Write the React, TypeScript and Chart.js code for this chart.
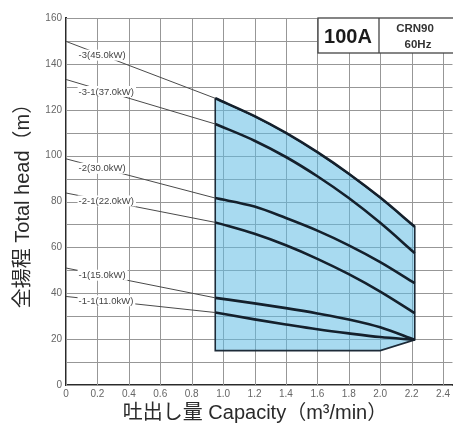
import React, { useEffect, useRef } from 'react';
import { Chart, registerables } from 'chart.js';
Chart.register(...registerables);

// Pump curve labels (model suffix and motor power)
const curveLabels = ['-3(45.0kW)', '-3-1(37.0kW)', '-2(30.0kW)', '-2-1(22.0kW)', '-1(15.0kW)', '-1-1(11.0kW)'];
// Head at zero flow (start of thin extension lines), m
const shutoffHead = [149.8, 133.2, 98.6, 83.7, 51.0, 38.6];
// Flow points of the operating range, m3/min
const curveQ = [0.95, 1.2, 1.4, 1.6, 1.8, 2.0, 2.22];
// Head per model at curveQ, m
const head45 = [125, 117.2, 109.9, 101.5, 92.1, 81.7, 69];
const head37 = [113.8, 106.5, 99.4, 91, 81.5, 70.7, 57.5];
const head30 = [81.5, 77.8, 72.8, 67.3, 60.9, 53.6, 44.4];
const head22 = [70.9, 65.9, 60.9, 55.0, 48.3, 40.7, 31.3];
const head15 = [38, 35.6, 33.5, 31.2, 28.6, 25.2, 19.7];
const head11 = [31.6, 28.6, 26.4, 24.3, 22.5, 20.9, 19.7];
// Lower boundary of the shaded operating range
const regionBottomQ = [2.22, 2.0, 0.95];
const regionBottomHead = [19.7, 15, 15];
// Flow at which curve labels start
const labelStartQ = 0.08;
// Axis ticks
const xTickStep = 0.2;
const yTickStep = 10;
const yLabelStep = 20;
const xMax = 2.46;
const yMax = 160;
// Texts
const boxMain = '100A';
const boxModel = 'CRN90';
const boxFreq = '60Hz';
const yTitle = '全揚程 Total head（m）';
const xTitle = '吐出し量 Capacity（m³/min）';

export default function App() {
  const ref = useRef<HTMLCanvasElement>(null);

  useEffect(() => {
    const heads = [head45, head37, head30, head22, head15, head11];
    const thinDs = heads.map((h, i) => ({
      data: [{ x: 0, y: shutoffHead[i] }, { x: curveQ[0], y: h[0] }],
      borderColor: '#4a4a4a',
      borderWidth: 1,
      pointRadius: 0,
      showLine: true,
      fill: false,
      order: 2,
    }));
    const thickDs = heads.map((h) => ({
      data: curveQ.map((q, j) => ({ x: q, y: h[j] })),
      borderColor: '#14202c',
      borderWidth: 2.6,
      pointRadius: 0,
      showLine: true,
      cubicInterpolationMode: 'monotone',
      fill: false,
      order: 1,
    }));
    const regionData = [
      ...curveQ.map((q, j) => ({ x: q, y: head45[j] })),
      ...regionBottomQ.map((q, j) => ({ x: q, y: regionBottomHead[j] })),
      { x: curveQ[0], y: head45[0] },
    ];
    const regionDs = {
      data: regionData,
      borderColor: '#1d2b38',
      borderWidth: 1.6,
      backgroundColor: 'rgba(97,188,228,0.55)',
      fill: 'shape',
      pointRadius: 0,
      showLine: true,
      tension: 0,
      order: 3,
    };

    const gridPlugin = {
      id: 'gridLines',
      beforeDatasetsDraw(chart: any) {
        const ctx = chart.ctx;
        const xs = chart.scales.x;
        const ys = chart.scales.y;
        const { left, right, top, bottom } = chart.chartArea;
        ctx.save();
        ctx.strokeStyle = '#979797';
        ctx.lineWidth = 1;
        ctx.beginPath();
        xs.ticks.forEach((t: any) => {
          const px = Math.round(xs.getPixelForValue(t.value)) + 0.5;
          ctx.moveTo(px, top);
          ctx.lineTo(px, bottom);
        });
        ys.ticks.forEach((t: any) => {
          const py = Math.round(ys.getPixelForValue(t.value)) + 0.5;
          ctx.moveTo(left, py);
          ctx.lineTo(right, py);
        });
        ctx.stroke();
        ctx.restore();
      },
    };

    const decor = {
      id: 'decor',
      afterDraw(chart: any) {
        const ctx = chart.ctx;
        const xs = chart.scales.x;
        const ys = chart.scales.y;
        ctx.save();
        // curve labels on thin lines
        ctx.font = '9.5px "Liberation Sans", Arial, sans-serif';
        ctx.textBaseline = 'middle';
        ctx.textAlign = 'left';
        heads.forEach((h, i) => {
          const text = curveLabels[i];
          const w = ctx.measureText(text).width;
          const left = xs.getPixelForValue(labelStartQ);
          const cx = left + w / 2;
          const q = xs.getValueForPixel(cx);
          const yv = shutoffHead[i] + (h[0] - shutoffHead[i]) * (q / curveQ[0]);
          const py = ys.getPixelForValue(yv);
          ctx.fillStyle = '#ffffff';
          ctx.fillRect(left - 1, py - 5.5, w + 3, 11);
          ctx.fillStyle = '#444';
          ctx.fillText(text, left, py + 0.5);
        });
        // title box
        const bx = 318, by = 18, bw = 140, bh = 35, div = 379;
        ctx.fillStyle = '#ffffff';
        ctx.fillRect(bx, by, bw, bh);
        ctx.strokeStyle = '#444';
        ctx.lineWidth = 1.3;
        ctx.strokeRect(bx, by, bw, bh);
        ctx.beginPath();
        ctx.moveTo(div, by);
        ctx.lineTo(div, by + bh);
        ctx.stroke();
        ctx.fillStyle = '#1a1a1a';
        ctx.textAlign = 'center';
        ctx.font = 'bold 20px "Liberation Sans", Arial, sans-serif';
        ctx.fillText(boxMain, 348, 37);
        ctx.font = 'bold 11.5px "Liberation Sans", Arial, sans-serif';
        ctx.fillStyle = '#333';
        ctx.fillText(boxModel, 415, 29);
        ctx.fillText(boxFreq, 418, 45);
        // axis titles
        ctx.fillStyle = '#2a2a2a';
        ctx.font = '20px "Liberation Sans", "Noto Sans CJK JP", sans-serif';
        ctx.fillText(xTitle, 255, 413);
        ctx.translate(23, 201);
        ctx.rotate(-Math.PI / 2);
        ctx.fillText(yTitle, 0, 0);
        ctx.restore();
      },
    };

    const tickFont = { family: '"Liberation Sans", Arial, sans-serif', size: 10 };
    const chart = new Chart(ref.current as HTMLCanvasElement, {
      type: 'scatter',
      data: { datasets: [...thickDs, ...thinDs, regionDs] as any },
      options: {
        animation: false,
        responsive: false,
        maintainAspectRatio: false,
        layout: { padding: { top: 18, right: 0, left: 0, bottom: 0 } },
        plugins: { legend: { display: false }, tooltip: { enabled: false } },
        scales: {
          x: {
            type: 'linear',
            min: 0,
            max: xMax,
            afterBuildTicks: (s: any) => {
              s.ticks = s.ticks.filter((t: any) => Math.abs(t.value / xTickStep - Math.round(t.value / xTickStep)) < 1e-6);
            },
            afterFit: (s: any) => { s.height = 40; },
            ticks: {
              stepSize: xTickStep,
              includeBounds: false,
              autoSkip: false,
              maxRotation: 0,
              padding: 3,
              color: '#666',
              font: tickFont,
              callback: (v: any) => (Math.abs(v) < 1e-9 ? '0' : Number(v).toFixed(1)),
            },
            grid: { display: false, drawTicks: false },
            border: { display: true, color: '#2a2a2a', width: 2 },
          },
          y: {
            type: 'linear',
            min: 0,
            max: yMax,
            afterFit: (s: any) => { s.width = 66; },
            ticks: {
              stepSize: yTickStep,
              autoSkip: false,
              padding: 4,
              color: '#666',
              font: tickFont,
              callback: (v: any) => (Math.round(v) % yLabelStep === 0 ? String(Math.round(v)) : ''),
            },
            grid: { display: false, drawTicks: false },
            border: { display: true, color: '#2a2a2a', width: 2 },
          },
        },
      } as any,
      plugins: [gridPlugin, decor],
    });
    return () => chart.destroy();
  }, []);

  return (
    <div style={{ position: 'fixed', left: 0, top: 0, width: 453, height: 425, background: '#fff' }}>
      <canvas ref={ref} width={453} height={425} style={{ width: 453, height: 425, display: 'block' }} />
    </div>
  );
}
